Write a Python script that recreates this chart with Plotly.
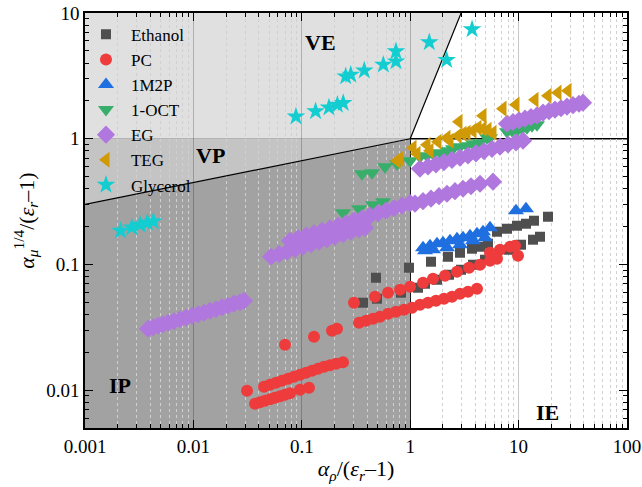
import plotly.graph_objects as go

# ---------------- data ----------------
eth_x = [0.3669, 0.4836, 0.4940, 0.8226, 0.9748, 1.180,
         1.556, 2.232, 2.881, 3.717, 4.405, 5.221, 6.322, 7.816, 9.665, 11.70, 13.87, 18.67,
         1.369, 1.767, 2.280, 2.942, 3.796, 4.898, 6.322, 8.154, 10.52, 13.58, 15.75]
eth_y = [0.04959, 0.07837, 0.05336, 0.05955, 0.09413, 0.06527,
         0.1051, 0.1151, 0.1239, 0.1334, 0.1383, 0.1462, 0.1821, 0.1923, 0.2032, 0.2108, 0.2227, 0.2396,
         0.07022, 0.07556, 0.08280, 0.09075, 0.09945, 0.1090, 0.1194, 0.1309, 0.1435, 0.1573, 0.1661]

pc_x = [0.03701, 0.04115, 0.04576, 0.05088, 0.05658, 0.06293, 0.06998, 0.0778, 0.09625, 0.1165,
        0.03122, 0.04480, 0.05088, 0.05781, 0.06567, 0.07459, 0.08472, 0.09625, 0.1093, 0.1242,
        0.1411, 0.1602, 0.1820, 0.2068, 0.2399,
        0.06998, 0.1296, 0.1899, 0.2112,
        0.3030, 0.4735, 0.6241, 0.8052, 0.996, 1.313, 1.623, 2.094, 2.702, 3.487, 4.405, 5.447, 6.322,
        5.447, 6.737, 8.332, 9.265, 9.874,
        0.3371, 0.3911, 0.4537, 0.5264, 0.6241, 0.7396, 0.8767, 1.039, 1.231, 1.459, 1.730, 2.050,
        2.430, 2.881, 3.414, 4.133]
pc_y = [0.007795, 0.008012, 0.008236, 0.008465, 0.008701, 0.008944, 0.009192, 0.009448, 0.01007, 0.01045,
        0.009890, 0.01064, 0.01104, 0.01145, 0.01188, 0.01232, 0.01278, 0.01326, 0.01375, 0.01426,
        0.01480, 0.01535, 0.01578, 0.01622, 0.01667,
        0.02297, 0.02660, 0.02970, 0.03080,
        0.04959, 0.05534, 0.05955, 0.06290, 0.06648, 0.07152, 0.07697, 0.08131, 0.08749, 0.09413, 0.09945, 0.1070, 0.1110,
        0.1239, 0.1309, 0.1383, 0.1408, 0.1172,
        0.03437, 0.03565, 0.03698, 0.03836, 0.04053, 0.04204, 0.04361, 0.04523, 0.04780, 0.04959, 0.05144, 0.05336,
        0.05534, 0.05847, 0.06066, 0.06407]

m2p_x = [1.313, 1.523, 1.767, 2.007, 2.329, 2.702, 3.070, 3.562, 4.133, 4.695, 5.447,
         1.369, 1.623, 2.185, 2.881, 3.796, 4.898, 9.462, 11.70]
m2p_y = [0.1358, 0.1408, 0.1462, 0.1488, 0.1543, 0.1601, 0.1631, 0.1692, 0.1754, 0.1821, 0.1959,
         0.1285, 0.1309, 0.1358, 0.1435, 0.1543, 0.1631, 0.2675, 0.2773]

oct_x = [0.2399, 0.3371, 0.4537, 0.5612,
         0.3593, 0.4441, 0.5854, 0.7553, 0.996, 1.231, 1.429, 1.623, 1.883, 2.185, 2.482, 2.881, 3.342,
         3.796, 4.405, 5.111, 5.447, 7.816, 8.693, 9.665, 10.75, 11.95, 13.29, 14.78]
oct_y = [0.2578, 0.2773, 0.2985, 0.3153,
         0.5267, 0.5364, 0.5988, 0.6327, 0.6683, 0.7192, 0.7325, 0.7597, 0.7737, 0.8028, 0.8326, 0.8638, 0.8797,
         0.9126, 0.9294, 1.018, 1.018, 1.137, 1.158, 1.158, 1.201, 1.223, 1.269, 1.292]

eg_x = [0.003813, 0.004240, 0.004714, 0.005243, 0.005831, 0.00662, 0.00752, 0.00855, 0.00971, 0.01103,
        0.01253, 0.01423, 0.01616, 0.01836, 0.02085, 0.02368, 0.02690, 0.02929,
        0.0520, 0.0616, 0.0730, 0.0866, 0.1026, 0.1216, 0.1441, 0.1708, 0.2024, 0.2399, 0.2843, 0.3371, 0.3828,
        0.0778, 0.0922, 0.1093, 0.1296, 0.1536, 0.1820, 0.2158, 0.2556, 0.3030, 0.3593, 0.4258, 0.5047, 0.5981,
        0.7090, 0.8404, 0.996,
        1.108, 1.313, 1.556, 1.844, 2.185, 2.590, 3.070, 3.638, 4.405, 5.805,
        1.231, 1.459, 1.730, 2.050, 2.430, 2.881, 3.414, 4.046, 4.796, 5.683, 6.737, 7.985, 9.462, 10.98,
        7.816, 8.878, 10.09, 11.46, 13.01, 14.78, 16.80, 19.07, 21.67, 24.61, 27.96, 31.75, 36.07, 39.28]
eg_y = [0.03080, 0.03165, 0.03252, 0.03344, 0.03437, 0.03533, 0.03664, 0.03767, 0.03906, 0.04015,
        0.04127, 0.04281, 0.04400, 0.04566, 0.04694, 0.04870, 0.05005, 0.05144,
        0.1151, 0.1206, 0.1262, 0.1321, 0.1383, 0.1448, 0.1516, 0.1587, 0.1661, 0.1739, 0.1821, 0.1905, 0.1959,
        0.1543, 0.1616, 0.1692, 0.1771, 0.1854, 0.1941, 0.2032, 0.2127, 0.2227, 0.2331, 0.2440, 0.2555, 0.2675,
        0.2800, 0.2931, 0.3069,
        0.3041, 0.3183, 0.3332, 0.3488, 0.3651, 0.3823, 0.4001, 0.4189, 0.4385, 0.4549,
        0.5772, 0.6010, 0.6258, 0.6515, 0.6783, 0.7062, 0.7354, 0.7653, 0.7969, 0.8296, 0.8638, 0.8992, 0.9363, 0.9640,
        1.316, 1.358, 1.398, 1.443, 1.488, 1.532, 1.610, 1.655, 1.701, 1.748, 1.797, 1.847, 1.898, 1.934]

teg_x = [0.7553, 0.8052, 1.061, 1.155, 1.429, 1.523, 1.805, 2.185, 2.329, 2.761, 2.820, 3.070, 3.342,
         3.796, 4.222, 4.695, 4.695, 5.221, 5.805, 7.180, 9.462, 14.17, 18.67, 23.10, 28.56]
teg_y = [0.6683, 0.6931, 0.8480, 0.7597, 0.8960, 0.8028, 0.9465, 1.018, 0.9640, 1.056, 1.365, 1.096, 1.116,
         1.158, 1.223, 1.201, 1.524, 1.179, 1.116, 1.733, 1.865, 2.043, 2.198, 2.323, 2.409]

gly_x = [0.00213, 0.0027, 0.00322, 0.00376, 0.00427, 0.0883, 0.134, 0.178, 0.213, 0.241, 0.254, 0.283,
         0.377, 0.565, 0.739, 0.739, 1.50, 2.17, 3.72]
gly_y = [0.185, 0.197, 0.207, 0.215, 0.22, 1.50, 1.65, 1.77, 1.86, 1.92, 3.13, 3.23, 3.48, 3.88, 4.12,
         4.95, 5.84, 4.23, 7.41]

x_ticks = [0.001, 0.01, 0.1, 1, 10, 100]
x_ticktext = ["0.001", "0.01", "0.1", "1", "10", "100"]
y_ticks = [0.01, 0.1, 1, 10]
y_ticktext = ["0.01", "0.1", "1", "10"]

region_labels = ["VE", "VP", "IP", "IE"]
region_lx = [-0.832, -1.842, -2.677, 1.271]   # log10 positions
region_ly = [0.766, -0.135, -1.963, -2.180]

# ---------------- figure ----------------
SERIF = "Liberation Serif, Times New Roman, serif"

series = [
    ("Ethanol", eth_x, eth_y, "square", "#4f4f4f", 10),
    ("PC", pc_x, pc_y, "circle", "#ee3b3b", 12),
    ("1M2P", m2p_x, m2p_y, "triangle-up", "#1f6fe0", 14),
    ("1-OCT", oct_x, oct_y, "triangle-down", "#38ae6b", 14),
    ("EG", eg_x, eg_y, "diamond", "#b077de", 14),
    ("TEG", teg_x, teg_y, "triangle-left", "#d09a06", 14),
    ("Glycerol", gly_x, gly_y, "star", "#13cdd0", 14),
]

fig = go.Figure()
for name, xs, ys, sym, col, sz in series:
    fig.add_trace(go.Scatter(x=xs, y=ys, mode="markers", name=name,
                             marker=dict(symbol=sym, color=col, size=sz, line=dict(width=0))))

XMIN, XMAX, YMIN, YMAX = 0.001, 100, 0.005, 10
shapes = [
    dict(type="path", path=f"M {XMIN},{YMIN} L 1,{YMIN} L 1,1 L {XMIN},0.3 Z",
         xref="x", yref="y", fillcolor="#a2a2a2", line=dict(width=0), layer="below"),
    dict(type="path", path=f"M {XMIN},0.3 L 1,1 L {XMIN},1 Z",
         xref="x", yref="y", fillcolor="#c4c4c4", line=dict(width=0), layer="below"),
    dict(type="path", path=f"M {XMIN},1 L 1,1 L 2.95,{YMAX} L {XMIN},{YMAX} Z",
         xref="x", yref="y", fillcolor="#e0e0e0", line=dict(width=0), layer="below"),
    dict(type="line", x0=XMIN, y0=0.3, x1=1, y1=1, xref="x", yref="y",
         line=dict(color="black", width=1.2), layer="between"),
    dict(type="line", x0=1, y0=1, x1=2.95, y1=YMAX, xref="x", yref="y",
         line=dict(color="black", width=1.2), layer="between"),
    dict(type="line", x0=1, x1=1, y0=0, y1=1, xref="x", yref="paper",
         line=dict(color="black", width=1.6), layer="between"),
    dict(type="line", x0=0, x1=1, y0=1, y1=1, xref="paper", yref="y",
         line=dict(color="black", width=1.6), layer="between"),
]

annotations = []
for t, lx, ly in zip(region_labels, region_lx, region_ly):
    annotations.append(dict(x=lx, y=ly, xref="x", yref="y", text=f"<b>{t}</b>", showarrow=False,
                            font=dict(family=SERIF, size=22, color="black")))

minor_x = [m * 10.0 ** e for e in range(-3, 2) for m in range(2, 10)]
minor_y = [m * 10.0 ** e for e in range(-3, 1) for m in range(2, 10)]
minor_y = [v for v in minor_y if YMIN - 1e-9 <= v <= YMAX]

fig.update_layout(
    width=642, height=487,
    margin=dict(l=85, r=15, t=13, b=59, autoexpand=False),
    paper_bgcolor="white", plot_bgcolor="white",
    shapes=shapes, annotations=annotations,
    font=dict(family=SERIF, size=19, color="black"),
    legend=dict(x=-0.0074, y=0.991, xanchor="left", yanchor="top", bgcolor="rgba(0,0,0,0)",
                font=dict(family=SERIF, size=17), tracegroupgap=0, itemwidth=40),
    showlegend=True,
)
fig.update_xaxes(
    type="log", range=[-3, 2], showline=True, linecolor="black", linewidth=1.5, mirror="allticks",
    ticks="inside", ticklen=8, tickwidth=1.2, tickcolor="black", automargin=False,
    tickmode="array", tickvals=x_ticks, ticktext=x_ticktext,
    showgrid=True, gridcolor="rgba(0,0,0,0.22)", gridwidth=1.2, zeroline=False,
    minor=dict(tickmode="array", tickvals=minor_x, ticks="inside", ticklen=4, tickcolor="black",
               showgrid=True, gridcolor="#d0d0d0", griddash="dot", gridwidth=1),
    title=dict(text="<i>α</i><sub><i>ρ</i></sub>/(<i>ε</i><sub><i>r</i></sub>–1)",
               font=dict(family=SERIF, size=22), standoff=5),
    tickfont=dict(family=SERIF, size=19),
)
fig.update_yaxes(
    type="log", range=[-2.30103, 1], showline=True, linecolor="black", linewidth=1.5, mirror="allticks",
    ticks="inside", ticklen=8, tickwidth=1.2, tickcolor="black", automargin=False,
    tickmode="array", tickvals=y_ticks, ticktext=y_ticktext,
    showgrid=False, zeroline=False,
    minor=dict(tickmode="array", tickvals=minor_y, ticks="inside", ticklen=4, tickcolor="black",
               showgrid=False),
    title=dict(text="<i>α</i><sub><i>μ</i></sub><sup>1/4</sup>/(<i>ε</i><sub><i>r</i></sub>–1)",
               font=dict(family=SERIF, size=22), standoff=6),
    tickfont=dict(family=SERIF, size=19),
)

fig.write_html("out.html")
